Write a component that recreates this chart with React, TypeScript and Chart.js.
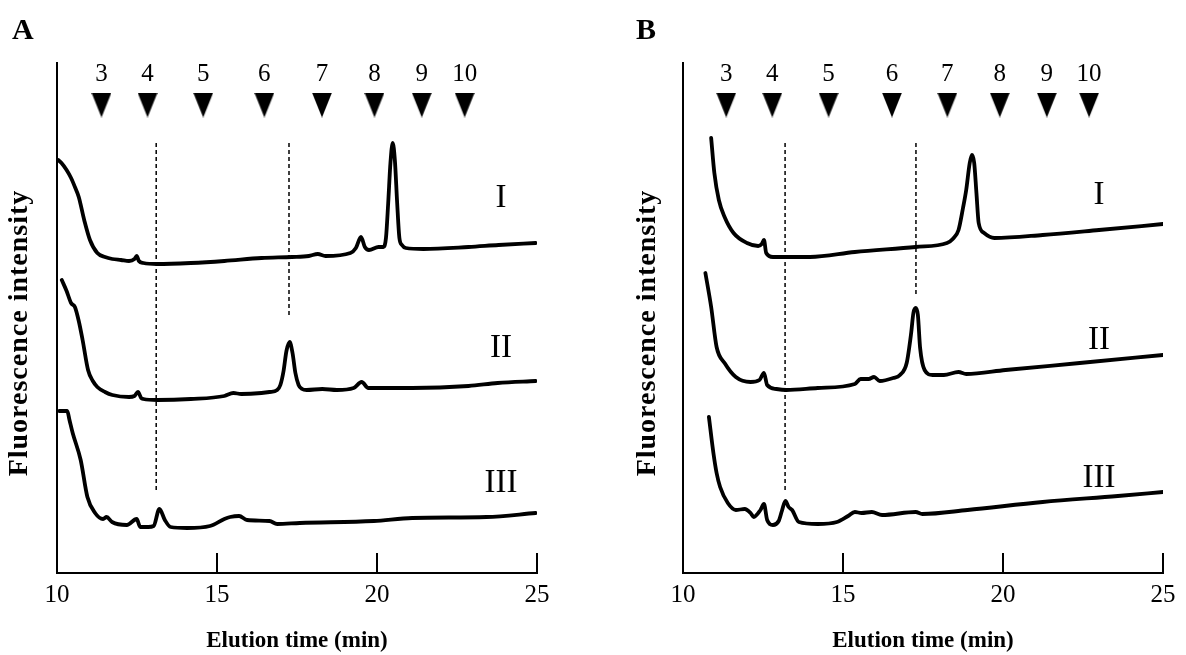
import React, { useEffect, useRef } from "react";
import { Chart, registerables } from "chart.js";

Chart.register(...registerables);

const SERIF = '"Liberation Serif", "Times New Roman", serif';

// ---------- Panel A traces (x: elution time in min, y: relative intensity) ----------
const aTimeI = [10.04, 10.14, 10.3, 10.44, 10.56, 10.68, 10.85, 11.03, 11.26, 11.5, 11.73, 12.0, 12.25, 12.42, 12.49, 12.56, 12.7, 13.13, 14.18, 15.23, 16.39, 17.34, 17.87, 18.15, 18.39, 19.17, 19.34, 19.5, 19.62, 19.75, 20.05, 20.2, 20.28, 20.35, 20.42, 20.49, 20.56, 20.63, 20.7, 20.78, 20.9, 21.45, 22.86, 23.8, 24.96];
const aSignalI = [413, 410, 403, 395, 386, 376, 353, 333, 320, 316, 314, 313, 312, 314, 317, 312, 310, 309, 310, 312, 315, 316, 317, 319, 317, 320, 325, 336, 326, 323, 326, 326, 335, 370, 410, 430, 412, 370, 335, 328, 325, 324, 326, 328, 330];

const aTimeII = [10.15, 10.3, 10.44, 10.56, 10.68, 10.8, 10.97, 11.12, 11.26, 11.5, 11.73, 12.25, 12.42, 12.53, 12.63, 12.7, 13.13, 14.18, 15.23, 15.51, 15.76, 16.39, 16.64, 16.88, 16.98, 17.08, 17.17, 17.27, 17.36, 17.45, 17.55, 17.66, 17.8, 18.29, 18.75, 19.27, 19.52, 19.73, 21.1, 22.86, 23.77, 24.96];
const aSignalII = [293, 282, 270, 266, 252, 233, 203, 192, 186, 181, 178, 176, 177, 181, 175, 174, 173, 174, 177, 180, 179, 180, 181, 183, 188, 202, 222, 231, 220, 200, 188, 184, 183, 184, 183, 185, 191, 185, 185, 187, 190, 192];

const aTimeIII = [10.07, 10.32, 10.39, 10.49, 10.74, 10.95, 11.19, 11.44, 11.55, 11.72, 12.18, 12.49, 12.6, 12.85, 13.02, 13.2, 13.37, 13.55, 14.07, 14.78, 15.23, 15.41, 15.69, 15.94, 16.64, 16.88, 17.59, 19.9, 21.1, 23.42, 24.96];
const aSignalIII = [162, 162, 153, 140, 113, 76, 60, 54, 56, 51, 48, 54, 46, 46, 47, 64, 53, 46, 45, 47, 54, 56, 57, 53, 52, 49, 50, 52, 55, 56, 60];

// ---------- Panel B traces ----------
const bTimeI = [10.88, 10.98, 11.12, 11.3, 11.58, 12.0, 12.35, 12.46, 12.53, 12.6, 12.81, 13.27, 13.97, 15.37, 17.27, 18.25, 18.43, 18.61, 18.75, 18.85, 18.96, 19.03, 19.1, 19.17, 19.24, 19.41, 19.73, 21.24, 23.0, 25.0];
const bSignalI = [435, 400, 373, 356, 340, 330, 327, 329, 333, 320, 316, 316, 316, 321, 326, 330, 334, 343, 365, 383, 410, 418, 410, 380, 350, 340, 335, 338, 343, 349];

const bTimeII = [10.7, 10.88, 11.05, 11.3, 11.65, 12.11, 12.39, 12.53, 12.63, 12.92, 13.23, 14.21, 15.37, 15.55, 15.8, 15.97, 16.15, 16.57, 16.78, 16.99, 17.13, 17.2, 17.27, 17.34, 17.41, 17.55, 17.8, 18.15, 18.61, 18.85, 20.08, 22.4, 25.0];
const bSignalII = [300, 266, 226, 210, 196, 191, 193, 200, 188, 184, 183, 185, 189, 194, 194, 196, 192, 195, 198, 210, 240, 260, 265, 258, 225, 203, 198, 198, 201, 199, 203, 210, 218];

const bTimeIII = [10.81, 10.95, 11.05, 11.16, 11.4, 11.65, 11.93, 12.11, 12.21, 12.42, 12.53, 12.63, 12.81, 12.99, 13.09, 13.2, 13.3, 13.41, 13.62, 14.21, 14.81, 15.16, 15.37, 15.58, 15.9, 16.22, 17.27, 17.48, 18.89, 21.24, 23.59, 25.0];
const bSignalIII = [156, 120, 100, 86, 70, 63, 64, 60, 56, 63, 69, 53, 48, 52, 62, 72, 66, 63, 51, 49, 51, 57, 61, 60, 61, 58, 61, 59, 63, 71, 77, 81];

// ---------- Markers, labels, guides ----------
const markerLabels = ["3", "4", "5", "6", "7", "8", "9", "10"];
const aMarkerTimes = [11.39, 12.83, 14.57, 16.48, 18.28, 19.92, 21.4, 22.74];
const bMarkerTimes = [11.35, 12.79, 14.55, 16.53, 18.26, 19.9, 21.37, 22.69];
const markerLevel = 468;
const markerNumberLevel = 499;

const traceLabels = ["I", "II", "III"];
const aTraceLabelTime = 23.875;
const aTraceLabelLevels = [375, 225, 90];
const bTraceLabelTime = 23.0;
const bTraceLabelLevels = [378, 233, 95];

const dashTop = 430;
const aDashTimes = [13.1, 17.25];
const aDashBottoms = [81, 256];
const bDashTimes = [13.19, 17.28];
const bDashBottoms = [80, 278];

const xTickValues = [10, 15, 20, 25];
const xTitle = "Elution time (min)";
const yTitle = "Fluorescence intensity";

function zip(xs: number[], ys: number[]) {
  return xs.map((x, i) => ({ x, y: ys[i] }));
}

function makeTriangle() {
  const c = document.createElement("canvas");
  c.width = 20;
  c.height = 25;
  const g = c.getContext("2d")!;
  g.fillStyle = "#000";
  g.beginPath();
  g.moveTo(0, 0);
  g.lineTo(20, 0);
  g.lineTo(10, 25);
  g.closePath();
  g.fill();
  return c;
}

type PanelCfg = {
  letter: string;
  offsetX: number;
  leftWidth: number;
  rightPad: number;
  letterX: number;
  yTitleX: number;
  traces: { t: number[]; v: number[] }[];
  markerTimes: number[];
  labelTime: number;
  labelLevels: number[];
  dashTimes: number[];
  dashBottoms: number[];
};

const panels: PanelCfg[] = [
  {
    letter: "A",
    offsetX: 0,
    leftWidth: 57,
    rightPad: 56,
    letterX: 12,
    yTitleX: 20,
    traces: [
      { t: aTimeI, v: aSignalI },
      { t: aTimeII, v: aSignalII },
      { t: aTimeIII, v: aSignalIII },
    ],
    markerTimes: aMarkerTimes,
    labelTime: aTraceLabelTime,
    labelLevels: aTraceLabelLevels,
    dashTimes: aDashTimes,
    dashBottoms: aDashBottoms,
  },
  {
    letter: "B",
    offsetX: 593,
    leftWidth: 90,
    rightPad: 23,
    letterX: 43,
    yTitleX: 55,
    traces: [
      { t: bTimeI, v: bSignalI },
      { t: bTimeII, v: bSignalII },
      { t: bTimeIII, v: bSignalIII },
    ],
    markerTimes: bMarkerTimes,
    labelTime: bTraceLabelTime,
    labelLevels: bTraceLabelLevels,
    dashTimes: bDashTimes,
    dashBottoms: bDashBottoms,
  },
];

function Panel({ cfg }: { cfg: PanelCfg }) {
  const ref = useRef<HTMLCanvasElement | null>(null);

  useEffect(() => {
    if (!ref.current) return;
    const tri = makeTriangle();

    const decor = {
      id: "decor" + cfg.letter,
      afterDraw(chart: any) {
        const { ctx, chartArea } = chart;
        const x = chart.scales.x;
        const y = chart.scales.y;
        ctx.save();
        // inner tick marks
        ctx.strokeStyle = "#000";
        ctx.lineWidth = 2;
        x.ticks.forEach((tk: any) => {
          if (tk.value === x.min) return;
          const px = Math.round(x.getPixelForValue(tk.value));
          ctx.beginPath();
          ctx.moveTo(px, chartArea.bottom);
          ctx.lineTo(px, chartArea.bottom - 20);
          ctx.stroke();
        });
        ctx.fillStyle = "#000";
        ctx.textAlign = "center";
        ctx.textBaseline = "middle";
        // marker numbers
        ctx.font = `25px ${SERIF}`;
        cfg.markerTimes.forEach((t, i) => {
          ctx.fillText(markerLabels[i], x.getPixelForValue(t), y.getPixelForValue(markerNumberLevel));
        });
        // trace labels
        ctx.font = `33px ${SERIF}`;
        traceLabels.forEach((lab, i) => {
          ctx.fillText(lab, x.getPixelForValue(cfg.labelTime), y.getPixelForValue(cfg.labelLevels[i]));
        });
        // y axis title
        ctx.save();
        ctx.translate(cfg.yTitleX, 333);
        ctx.rotate(-Math.PI / 2);
        ctx.font = `bold 28px ${SERIF}`;
        try {
          (ctx as any).letterSpacing = "1px";
        } catch (e) {}
        ctx.fillText(yTitle, 0, 0);
        ctx.restore();
        // panel letter
        ctx.font = `bold 30px ${SERIF}`;
        ctx.textAlign = "left";
        ctx.textBaseline = "alphabetic";
        ctx.fillText(cfg.letter, cfg.letterX, 39);
        ctx.restore();
      },
    };

    const datasets: any[] = [];
    cfg.dashTimes.forEach((t, i) => {
      datasets.push({
        type: "line",
        data: [
          { x: t, y: dashTop },
          { x: t, y: cfg.dashBottoms[i] },
        ],
        borderColor: "#000",
        borderWidth: 1.5,
        borderDash: [4, 3],
        pointRadius: 0,
        tension: 0,
        fill: false,
      });
    });
    cfg.traces.forEach((tr) => {
      datasets.push({
        type: "line",
        data: zip(tr.t, tr.v),
        borderColor: "#000",
        borderWidth: 3.8,
        pointRadius: 0,
        cubicInterpolationMode: "monotone",
        fill: false,
        borderJoinStyle: "round",
        borderCapStyle: "round",
      });
    });
    datasets.push({
      type: "scatter",
      data: cfg.markerTimes.map((t) => ({ x: t, y: markerLevel })),
      pointStyle: tri,
      pointRadius: 10,
      showLine: false,
      backgroundColor: "#000",
      borderColor: "#000",
    });

    const chart = new Chart(ref.current, {
      type: "line",
      data: { datasets },
      options: {
        animation: false,
        responsive: false,
        maintainAspectRatio: false,
        events: [],
        layout: { padding: { left: 0, right: cfg.rightPad, top: 63, bottom: 0 } },
        plugins: { legend: { display: false }, tooltip: { enabled: false } },
        scales: {
          x: {
            type: "linear",
            min: 10,
            max: 25,
            afterBuildTicks: (s: any) => {
              s.ticks = xTickValues.map((v) => ({ value: v }));
            },
            grid: { display: false, drawTicks: false },
            border: { display: true, color: "#000", width: 2 },
            ticks: {
              color: "#000",
              font: { family: SERIF, size: 25 },
              padding: 7,
              maxRotation: 0,
              autoSkip: false,
            },
            title: {
              display: true,
              text: xTitle,
              color: "#000",
              font: { family: SERIF, size: 23, weight: "bold" },
              padding: { top: 0, bottom: 0 },
            },
            afterFit: (s: any) => {
              s.height = 82;
            },
          },
          y: {
            type: "linear",
            min: 0,
            max: 510,
            ticks: { display: false },
            grid: { display: false, drawTicks: false },
            border: { display: true, color: "#000", width: 2 },
            afterFit: (s: any) => {
              s.width = cfg.leftWidth;
            },
          },
        },
      } as any,
      plugins: [decor],
    });
    return () => chart.destroy();
  }, [cfg]);

  return (
    <canvas
      ref={ref}
      width={593}
      height={655}
      style={{ position: "absolute", left: cfg.offsetX, top: 0, width: 593, height: 655 }}
    />
  );
}

export default function App() {
  return (
    <div style={{ position: "absolute", left: 0, top: 0, width: 1186, height: 655, background: "#fff" }}>
      {panels.map((p) => (
        <Panel key={p.letter} cfg={p} />
      ))}
    </div>
  );
}
